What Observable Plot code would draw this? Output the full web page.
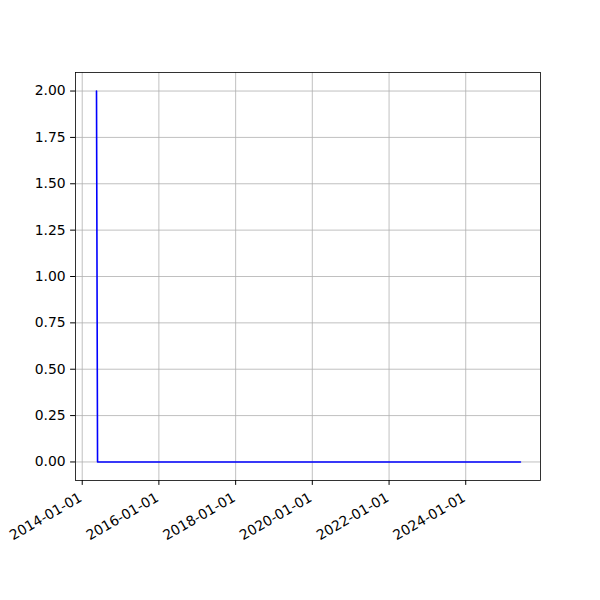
<!DOCTYPE html>
<html>
<head>
<meta charset="utf-8">
<script src="https://cdn.jsdelivr.net/npm/d3@7"></script>
<script src="https://cdn.jsdelivr.net/npm/@observablehq/plot@0.6"></script>
<style>
  html, body { margin: 0; padding: 0; background: #fff; }
  #chart svg { display: block; }
</style>
</head>
<body>
<div id="chart"></div>
<script>
const dates = ["2014-05-17", "2014-05-27", "2025-06-05"];
const values = [2, 0, 0];
const xTicks = ["2014-01-01", "2016-01-01", "2018-01-01", "2020-01-01", "2022-01-01", "2024-01-01"];
const yTicks = [0, 0.25, 0.5, 0.75, 1.0, 1.25, 1.5, 1.75, 2.0];

const data = dates.map((d, i) => ({date: new Date(d), value: values[i]}));
const xTickDates = xTicks.map(d => new Date(d));
const fmt = d3.utcFormat("%Y-%m-%d");

const chart = Plot.plot({
  width: 600,
  height: 600,
  marginLeft: 75,
  marginRight: 60,
  marginTop: 72,
  marginBottom: 120,
  style: {fontFamily: "DejaVu Sans", fontSize: "13.9px", color: "black", background: "white"},
  x: {type: "utc", domain: [new Date("2013-10-29"), new Date("2025-12-13")]},
  y: {domain: [-0.1, 2.1]},
  marks: [
    Plot.gridX(xTickDates, {stroke: "#b0b0b0", strokeOpacity: 1, strokeWidth: 0.8}),
    Plot.gridY(yTicks, {stroke: "#b0b0b0", strokeOpacity: 1, strokeWidth: 0.8}),
    Plot.lineY(data, {x: "date", y: "value", stroke: "blue", strokeWidth: 1.6}),
    Plot.frame({stroke: "black", strokeWidth: 0.8}),
    Plot.axisX(xTickDates, {tickFormat: () => "", tickSize: 4.9, label: null}),
    Plot.axisX(xTickDates, {tickFormat: fmt, tickRotate: -30, tickSize: 0, tickPadding: 9.9, dx: -1.5, dy: 6, label: null, fontSize: 13.9}),
    Plot.axisY(yTicks, {tickFormat: d3.format(".2f"), tickSize: 4.9, tickPadding: 4.9, label: null, fontSize: 13.9})
  ]
});
document.getElementById("chart").appendChild(chart);
</script>
</body>
</html>
